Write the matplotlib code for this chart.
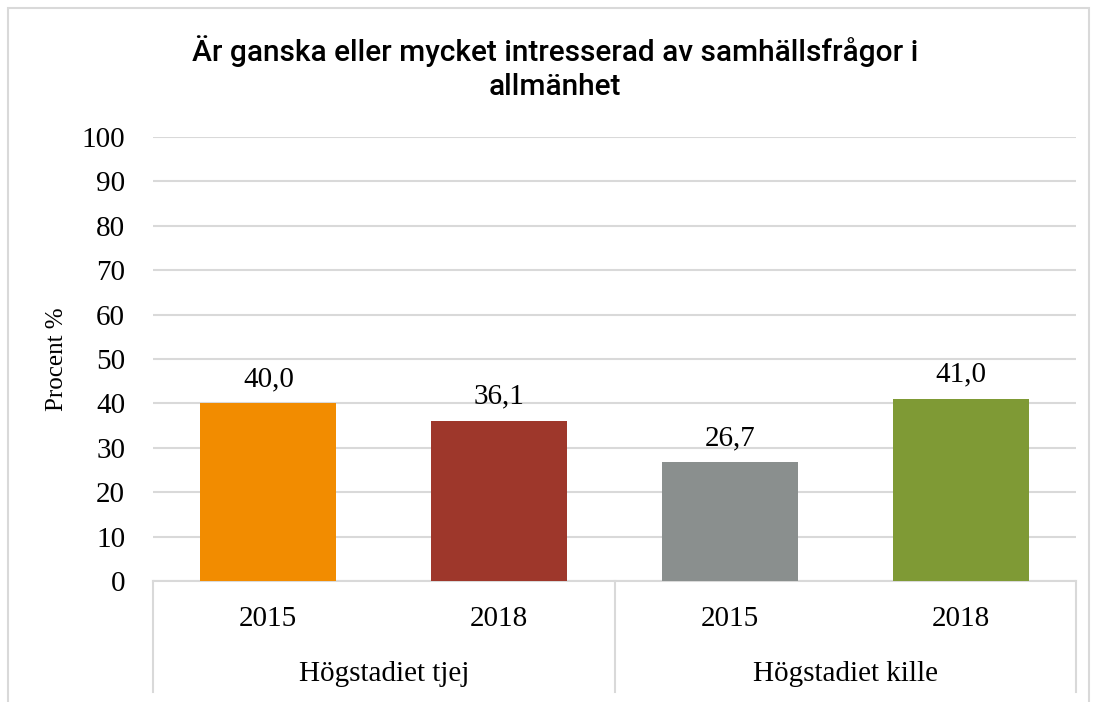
import matplotlib
matplotlib.use("Agg")
import matplotlib.pyplot as plt
from matplotlib.transforms import blended_transform_factory
from matplotlib.patches import Rectangle

title = "Är ganska eller mycket intresserad av samhällsfrågor i\nallmänhet"
groups = ["Högstadiet tjej", "Högstadiet kille"]
years = ["2015", "2018", "2015", "2018"]
values = [40.0, 36.1, 26.7, 41.0]
labels = ["40,0", "36,1", "26,7", "41,0"]
colors = ["#F28C00", "#9E372B", "#8A8F8E", "#7F9A35"]
yticks = [0, 10, 20, 30, 40, 50, 60, 70, 80, 90, 100]

W, H = 1094, 702
fig = plt.figure(figsize=(W / 100, H / 100), dpi=100)
ax = fig.add_axes([153 / W, 1 - 581 / H, (1076 - 153) / W, (581 - 137) / H])

serif = "Liberation Serif"
x = list(range(len(values)))
ax.bar(x, values, width=0.59, color=colors, zorder=3)
ax.set_xlim(-0.5, 3.5)
ax.set_ylim(0, 100)
ax.set_yticks(yticks)
ax.set_yticklabels([str(t) for t in yticks], fontfamily=serif, fontsize=21)
ax.tick_params(axis="y", length=0, pad=20)
ax.set_xticks([])
ax.grid(axis="y", color="#D9D9D9", linewidth=1.5, zorder=0)
for s in ["top", "right", "left"]:
    ax.spines[s].set_visible(False)
ax.spines["bottom"].set_color("#D9D9D9")
ax.spines["bottom"].set_linewidth(1.5)

for xi, v, lab in zip(x, values, labels):
    ax.annotate(lab, (xi, v), xytext=(0, 8), textcoords="offset points",
                ha="center", va="bottom", fontfamily=serif, fontsize=21)

tr = blended_transform_factory(ax.transData, ax.transAxes)
for xi, yr in zip(x, years):
    ax.text(xi, -0.085, yr, transform=tr, ha="center", va="center",
            fontfamily=serif, fontsize=21)
for gi, g in enumerate(groups):
    ax.text(gi * 2 + 0.5, -0.209, g, transform=tr, ha="center", va="center",
            fontfamily=serif, fontsize=21)
for xs in [-0.5, 1.5, 3.5]:
    ax.plot([xs, xs], [0, -0.25], transform=tr, color="#D9D9D9",
            linewidth=1.5, clip_on=False)

ax.set_ylabel("Procent %", fontfamily=serif, fontsize=18)
ax.yaxis.set_label_coords((68 - 153) / (1076 - 153), 0.5)

fig.text(555 / W, 1 - 68 / H, title, ha="center", va="center",
         fontfamily=["Roboto", "DejaVu Sans"], fontsize=21.5, fontweight=500,
         linespacing=1.3)

fig.patches.append(Rectangle((8 / W, -0.05), (1089 - 8) / W, 1.05 - 8 / H,
                             transform=fig.transFigure, fill=False,
                             edgecolor="#D9D9D9", linewidth=1.5))

fig.savefig("out.png", dpi=100)
